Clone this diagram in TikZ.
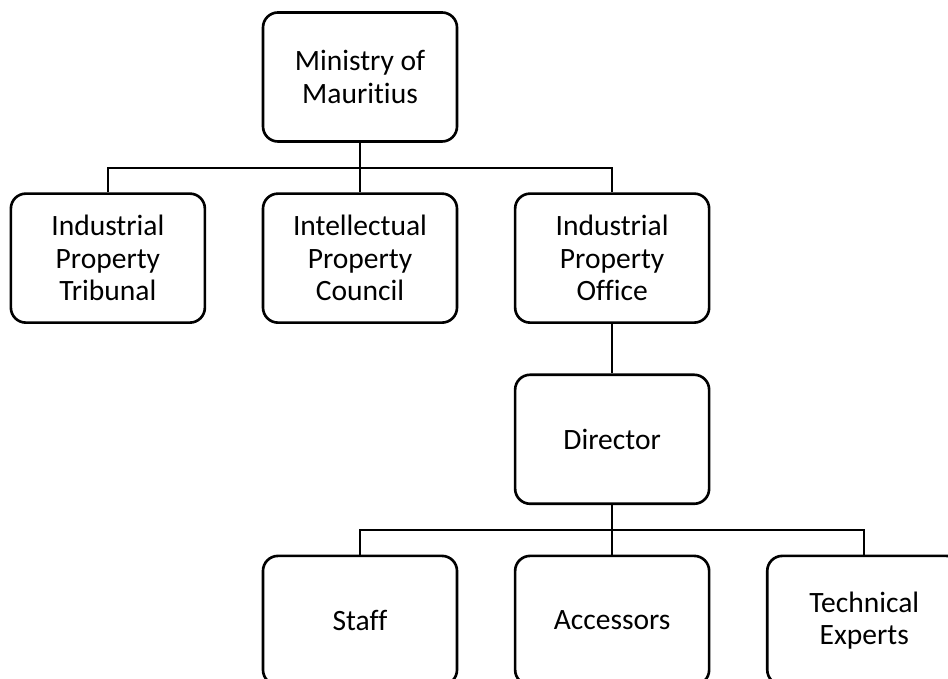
\documentclass[tikz,border=0pt]{standalone}
\usepackage{fontspec}
\setmainfont{Carlito}[Ligatures=NoCommon]
\usepackage{tikz}
\usetikzlibrary{positioning, calc}

\begin{document}
\begin{tikzpicture}[
            node distance=0.99cm and 1.11cm,
            every node/.style={font=\fontsize{16.8}{18.5}\selectfont},
            % Estilos del organigrama
            unit/.style={rectangle, rounded corners=0.3cm, minimum width=3.88cm, minimum height=2.58cm, align=center, draw=black, line width=1.5pt, fill=white},
            link/.style={line width=1.2pt}
        ]
            % Marco de la imagen
            \useasboundingbox (0,0) rectangle (18.96,-13.58);
            \clip (0,0) rectangle (18.96,-13.58);

            % Nivel superior
            \node (ministry) [unit] at (7.2,-1.54) {Ministry of\\ Mauritius};

            % Segundo nivel
            \node (council) [unit, below=of ministry] {Intellectual\\ Property\\ Council};
            \node (tribunal) [unit, left=of council] {Industrial\\ Property\\ Tribunal};
            \node (office) [unit, right=of council] {Industrial\\ Property\\ Office};

            % Direccion y personal
            \node (director) [unit, below=of office] {Director};
            \node (accessors) [unit, below=of director] {Accessors};
            \node (staff) [unit, left=of accessors] {Staff};
            \node (experts) [unit, right=of accessors] {Technical\\ Experts};

            % Barras de union
            \coordinate (bus1) at ($(ministry.south)!0.5!(council.north)$);
            \coordinate (bus2) at ($(director.south)!0.5!(accessors.north)$);

            % Conexiones
            \draw [link] (ministry) -- (council);
            \draw [link] (tribunal.north) |- (bus1) -| (office.north);
            \draw [link] (office) -- (director);
            \draw [link] (director) -- (accessors);
            \draw [link] (staff.north) |- (bus2) -| (experts.north);
\end{tikzpicture}
\end{document}
